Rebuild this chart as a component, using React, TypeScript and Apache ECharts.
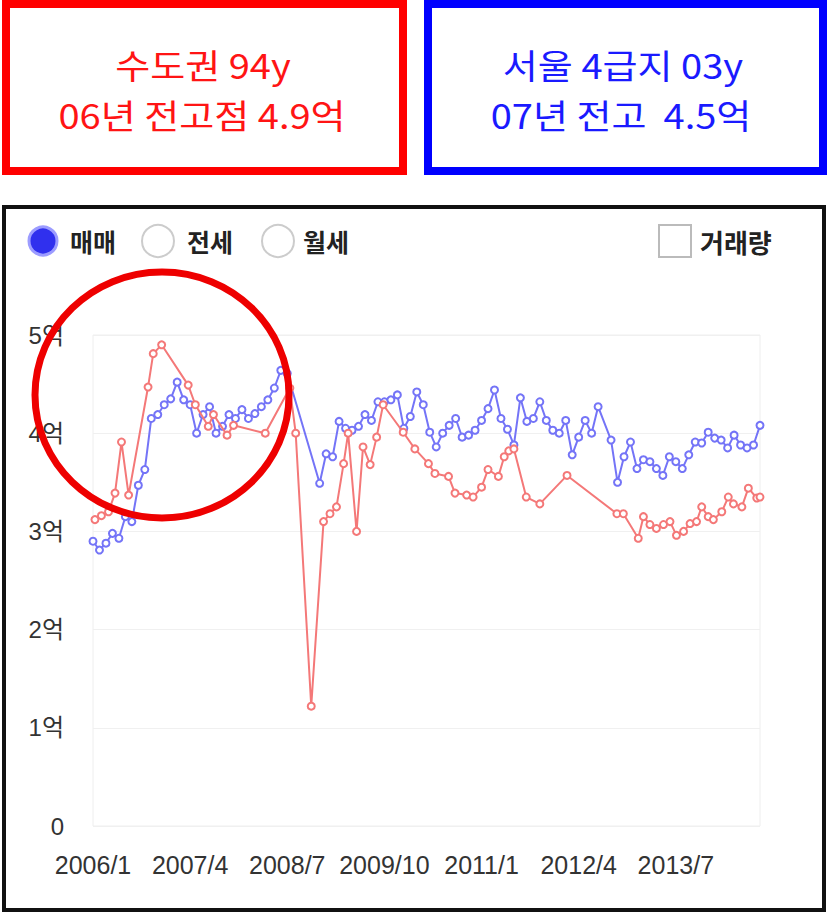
import React, { useEffect, useRef } from 'react';
import * as echarts from 'echarts';

// ---- data ----
const xTickLabels = ['2006/1', '2007/4', '2008/7', '2009/10', '2011/1', '2012/4', '2013/7'];
const xTickStep = 15; // months between labels
const monthCount = 104; // 2006/1 .. 2014/8
const yTickLabels = ['0', '1억', '2억', '3억', '4억', '5억'];

const blueName = '서울 4급지 03y';
const redName = '수도권 94y';

// monthly values (억), index 0 = 2006/1
const blueValues: (number | null)[] = [
  2.90, 2.81, 2.88, 2.98, 2.93, 3.15, 3.10, 3.47, 3.63, 4.15,
  4.19, 4.29, 4.35, 4.52, 4.34, 4.29, 4.00, 4.19, 4.27, 4.00,
  4.07, 4.19, 4.15, 4.24, 4.15, 4.20, 4.27, 4.34, 4.46, 4.64,
  4.61, null, null, null, null, 3.49, 3.79, 3.76, 4.12, 4.05,
  4.03, 4.07, 4.19, 4.13, 4.32, 4.32, 4.34, 4.39, 4.05, 4.17,
  4.42, 4.29, 4.01, 3.86, 4.00, 4.08, 4.15, 3.96, 3.98, 4.03,
  4.13, 4.25, 4.44, 4.15, 4.04, 3.88, 4.36, 4.12, 4.15, 4.32,
  4.13, 4.03, 4.00, 4.13, 3.78, 3.96, 4.13, 4.00, 4.27, null,
  3.93, 3.50, 3.76, 3.91, 3.64, 3.73, 3.71, 3.64, 3.57, 3.76,
  3.71, 3.64, 3.78, 3.91, 3.90, 4.01, 3.95, 3.93, 3.85, 3.98,
  3.88, 3.85, 3.88, 4.08,
];

// irregular transaction dates (months since 2006/1) and prices (억)
const redMonths = [
  0.3, 1.3, 2.4, 3.4, 4.4, 5.5, 8.5, 9.3, 10.6, 14.7,
  15.8, 17.8, 18.6, 20.7, 21.7, 26.6, 30.4, 31.3, 33.7, 35.6,
  36.6, 37.6, 38.7, 39.4, 40.7, 41.7, 42.8, 43.8, 44.8, 47.9,
  49.7, 51.8, 52.8, 54.9, 55.9, 57.7, 58.7, 60.0, 61.0, 62.6,
  63.5, 64.2, 65.0, 66.9, 69.0, 73.2, 80.9, 81.9, 84.2, 85.0,
  86.0, 87.0, 88.1, 89.1, 90.1, 91.2, 92.2, 93.2, 94.0, 95.0,
  95.8, 97.1, 98.1, 98.9, 100.2, 101.2, 102.5, 103.0,
];
const redValues = [
  3.12, 3.16, 3.20, 3.39, 3.91, 3.37, 4.47, 4.81, 4.90, 4.49,
  4.29, 4.07, 4.19, 3.98, 4.08, 4.00, 4.46, 4.00, 1.22, 3.10,
  3.18, 3.25, 3.69, 4.00, 3.00, 3.86, 3.68, 3.96, 4.29, 4.01,
  3.84, 3.69, 3.59, 3.56, 3.39, 3.37, 3.35, 3.45, 3.63, 3.56,
  3.76, 3.82, 3.84, 3.35, 3.28, 3.57, 3.18, 3.18, 2.93, 3.15,
  3.07, 3.03, 3.07, 3.10, 2.96, 3.00, 3.08, 3.10, 3.25, 3.15,
  3.12, 3.20, 3.35, 3.28, 3.25, 3.44, 3.34, 3.35,
];

const legendItems = ['매매', '전세', '월세'];
const volumeLabel = '거래량';
const redTitle = ['수도권 94y', '06년 전고점 4.9억'];
const blueTitle = ['서울 4급지 03y', '07년 전고  4.5억'];

const KR = "'Noto Sans CJK KR', 'Noto Sans', sans-serif";
const LAT = "'Liberation Sans', 'Noto Sans CJK KR', sans-serif";

export default function App() {
  const ref = useRef<HTMLDivElement>(null);

  useEffect(() => {
    if (!ref.current) return;
    const chart = echarts.init(ref.current, undefined, { renderer: 'svg' });

    const blueData = blueValues
      .map((v, i) => [i, v])
      .filter((p) => p[1] !== null);
    const redData = redMonths.map((t, i) => [t, redValues[i]]);

    const text = (
      x: number,
      y: number,
      t: string,
      size: number,
      color: string,
      align: string,
      weight = 'normal',
      scaleX = 1,
    ) => ({
      type: 'text',
      x,
      y,
      scaleX,
      z: 20,
      style: {
        text: t,
        fill: color,
        fontSize: size,
        fontWeight: weight,
        fontFamily: KR,
        align,
        textAlign: align,
        verticalAlign: 'middle',
        textVerticalAlign: 'middle',
      },
    });

    const option: any = {
      animation: false,
      backgroundColor: '#ffffff',
      grid: {
        left: 93,
        right: 67,
        top: 335,
        bottom: 88,
        show: true,
        borderColor: '#eeeeee',
        borderWidth: 1,
      },
      xAxis: {
        type: 'value',
        min: 0,
        max: monthCount - 1,
        interval: xTickStep,
        axisLine: { show: false },
        axisTick: { show: false },
        splitLine: { show: false },
        axisLabel: {
          showMaxLabel: false,
          margin: 26,
          fontSize: 25,
          color: '#333333',
          fontFamily: LAT,
          formatter: (v: number) => xTickLabels[Math.round(v / xTickStep)] ?? '',
        },
      },
      yAxis: {
        type: 'value',
        min: 0,
        max: 5,
        interval: 1,
        axisLine: { show: false },
        axisTick: { show: false },
        splitLine: { lineStyle: { color: '#f0f0f0', width: 1 } },
        axisLabel: {
          margin: 29,
          fontSize: 24,
          color: '#333333',
          fontFamily: LAT,
          formatter: (v: number) => yTickLabels[Math.round(v)] ?? '',
        },
      },
      series: [
        {
          name: blueName,
          type: 'line',
          data: blueData,
          symbol: 'circle',
          symbolSize: 7,
          lineStyle: { color: '#7474f7', width: 2 },
          itemStyle: { color: '#ffffff', borderColor: '#7474f7', borderWidth: 2 },
          z: 2,
        },
        {
          name: redName,
          type: 'line',
          data: redData,
          symbol: 'circle',
          symbolSize: 7,
          lineStyle: { color: '#f47878', width: 2 },
          itemStyle: { color: '#ffffff', borderColor: '#f47878', borderWidth: 2 },
          z: 3,
        },
      ],
      graphic: [
        // title boxes
        {
          type: 'rect',
          shape: { x: 6, y: 4, width: 397, height: 167 },
          style: { fill: 'rgba(0,0,0,0)', stroke: '#ff0000', lineWidth: 8 },
        },
        {
          type: 'rect',
          shape: { x: 428, y: 4, width: 395, height: 167 },
          style: { fill: 'rgba(0,0,0,0)', stroke: '#0000ff', lineWidth: 8 },
        },
        text(203, 64, redTitle[0], 34, '#ff1414', 'center', 'normal', 1.12),
        text(202, 114, redTitle[1], 34, '#ff1414', 'center', 'normal', 1.12),
        text(623, 64, blueTitle[0], 34, '#1a1aff', 'center', 'normal', 1.12),
        text(621, 114, blueTitle[1], 34, '#1a1aff', 'center', 'normal', 1.12),
        // chart frame
        {
          type: 'rect',
          shape: { x: 4, y: 207, width: 820, height: 703 },
          style: { fill: 'rgba(0,0,0,0)', stroke: '#111111', lineWidth: 4 },
        },
        // radio legend
        {
          type: 'circle',
          shape: { cx: 43, cy: 241, r: 14 },
          style: { fill: '#3030ee', stroke: '#9c9cff', lineWidth: 3 },
        },
        {
          type: 'circle',
          shape: { cx: 158, cy: 241, r: 16 },
          style: { fill: '#ffffff', stroke: '#cccccc', lineWidth: 2 },
        },
        {
          type: 'circle',
          shape: { cx: 278, cy: 241, r: 16 },
          style: { fill: '#ffffff', stroke: '#cccccc', lineWidth: 2 },
        },
        text(70, 241, legendItems[0], 25, '#222222', 'left', 'bold'),
        text(187, 241, legendItems[1], 25, '#222222', 'left', 'bold'),
        text(303, 241, legendItems[2], 25, '#222222', 'left', 'bold'),
        {
          type: 'rect',
          shape: { x: 659, y: 225, width: 32, height: 32 },
          style: { fill: '#ffffff', stroke: '#bbbbbb', lineWidth: 2 },
        },
        text(700, 241, volumeLabel, 26, '#222222', 'left', 'bold'),
        // annotation circle
        {
          type: 'ellipse',
          z: 30,
          shape: { cx: 162, cy: 395, rx: 127, ry: 123 },
          style: { fill: 'rgba(0,0,0,0)', stroke: '#ee0000', lineWidth: 7 },
        },
      ],
    };

    chart.setOption(option);
    return () => chart.dispose();
  }, []);

  return (
    <div
      ref={ref}
      style={{ position: 'absolute', left: 0, top: 0, width: 827, height: 914, background: '#fff' }}
    />
  );
}
